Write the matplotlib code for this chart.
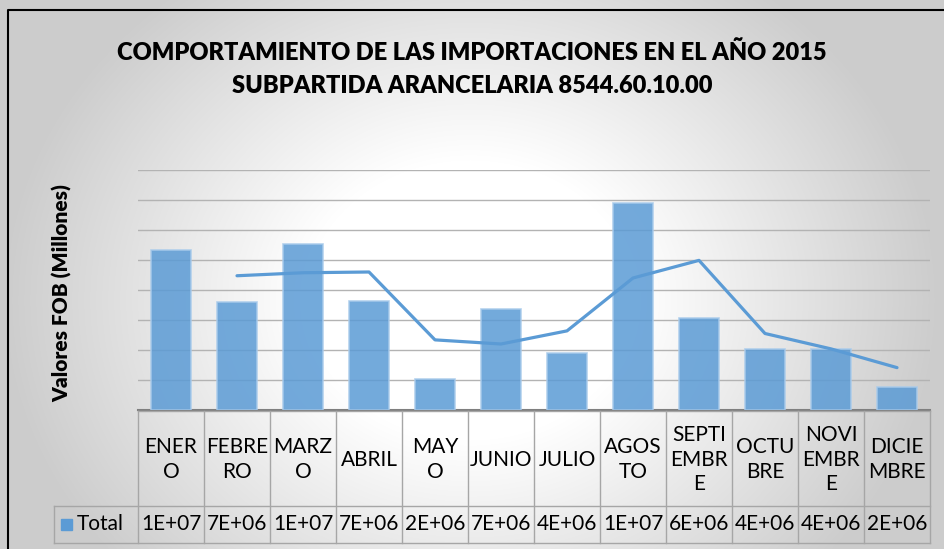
import matplotlib.pyplot as plt
import matplotlib.patches as mpatches
import numpy as np

# Datos (valores FOB en USD)
meses = ['ENER\nO', 'FEBRE\nRO', 'MARZ\nO', 'ABRIL', 'MAY\nO', 'JUNIO', 'JULIO',
         'AGOS\nTO', 'SEPTI\nEMBR\nE', 'OCTU\nBRE', 'NOVI\nEMBR\nE', 'DICIE\nMBRE']
totales = [10.7e6, 7.2e6, 11.1e6, 7.3e6, 2.05e6, 6.75e6, 3.8e6,
           13.8e6, 6.15e6, 4.05e6, 4.1e6, 1.55e6]
serie = 'Total'
titulo = ('COMPORTAMIENTO DE LAS IMPORTACIONES EN EL AÑO 2015\n'
          'SUBPARTIDA ARANCELARIA 8544.60.10.00')
eje_y = 'Valores FOB (Millones)'

plt.rcParams['font.family'] = ['Lato', 'DejaVu Sans']
fuente_tabla = ['Liberation Sans Narrow', 'Lato', 'DejaVu Sans']

W, H = 944, 549
fig = plt.figure(figsize=(W / 100, H / 100), dpi=100)

# fondo con degradado radial (blanco al centro, gris en bordes)
bg = fig.add_axes([0, 0, 1, 1], zorder=0)
yy, xx = np.mgrid[0:H, 0:W]
r = np.sqrt(((xx - 470) / 470.0) ** 2 + ((yy - 300) / 400.0) ** 2)
t = np.clip((r - 0.35) / 0.65, 0, 1)
g = 1 - 0.2 * t
bg.imshow(np.dstack([g, g, g]), extent=(0, W, H, 0), aspect='auto')
bg.set_xlim(0, W)
bg.set_ylim(H, 0)
bg.axis('off')
# marco negro (cortado a la derecha y abajo)
bg.plot([8, 8, W + 5], [H + 5, 10, 10], color='black', lw=1.5)

# area de trazado
x0, x1, y_top, y_base = 138, 930, 170, 410
ax = fig.add_axes([x0 / W, 1 - y_base / H, (x1 - x0) / W, (y_base - y_top) / H], zorder=2)
ax.set_facecolor('none')
n = len(totales)
x = np.arange(n)
ax.bar(x, totales, width=0.6, color='#5b9bd5', alpha=0.85,
       edgecolor='#a9cbeb', linewidth=1.2, zorder=3)
media_movil = np.convolve(totales, [0.5, 0.5], mode='valid')
ax.plot(x[1:], media_movil, color='#5b9bd5', lw=2.3, zorder=4,
        solid_capstyle='round')
ax.set_xlim(-0.5, n - 0.5)
ax.set_ylim(0, 16e6)
ax.set_yticks(np.arange(2e6, 16.1e6, 2e6))
ax.yaxis.grid(True, color='#b3b3b3', lw=1)
ax.set_axisbelow(True)
ax.tick_params(left=False, bottom=False, labelleft=False, labelbottom=False)
for s in ['left', 'right', 'top']:
    ax.spines[s].set_visible(False)
ax.spines['bottom'].set_color('#7f7f7f')
ax.spines['bottom'].set_linewidth(1.5)

# tabla de datos debajo del grafico
ov = fig.add_axes([0, 0, 1, 1], zorder=3)
ov.set_facecolor('none')
ov.set_xlim(0, W)
ov.set_ylim(H, 0)
ov.axis('off')
cw = (x1 - x0) / n
row1, row2, row3 = 411, 506, 543
leg_x = 54
lc = '#a6a6a6'
ov.plot([x0, x1], [row1, row1], color=lc, lw=1)
ov.plot([leg_x, x1], [row2, row2], color=lc, lw=1)
ov.plot([leg_x, x1], [row3, row3], color=lc, lw=1)
ov.plot([leg_x, leg_x], [row2, row3], color=lc, lw=1)
for i in range(n + 1):
    ov.plot([x0 + i * cw] * 2, [row1, row3], color=lc, lw=1)
fs = 15
for i in range(n):
    cx = x0 + (i + 0.5) * cw
    ov.text(cx, (row1 + row2) / 2 + 1, meses[i], ha='center', va='center',
            fontsize=fs, linespacing=1.3, color='black', family=fuente_tabla)
    ov.text(cx, (row2 + row3) / 2, f'{totales[i]:.0E}', ha='center', va='center',
            fontsize=fs, color='black', family=fuente_tabla)
ov.add_patch(mpatches.Rectangle((61, 519), 11, 11, color='#5b9bd5'))
ov.text(77, (row2 + row3) / 2, serie, ha='left', va='center',
        fontsize=fs, color='black', family=fuente_tabla)

# titulo y etiqueta del eje
ov.text(472, 69, titulo, ha='center', va='center', fontsize=17,
        fontweight='heavy', linespacing=1.6, color='black')
ov.text(62, 293, eje_y, ha='center', va='center', rotation=90,
        fontsize=15, fontweight='heavy', color='black')

fig.savefig('out.png', dpi=100)
